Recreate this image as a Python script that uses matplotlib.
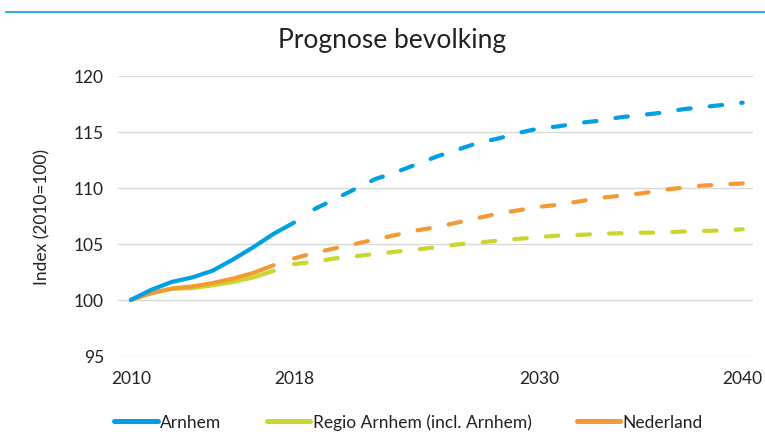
import matplotlib.pyplot as plt
from matplotlib.lines import Line2D

plt.rcParams['font.family'] = ['Lato', 'DejaVu Sans']

# Waarnemingen en prognose (index 2010 = 100)
jaren_arnhem_hist = list(range(2010, 2019))
arnhem_hist = [100.0, 100.9, 101.6, 102.0, 102.6, 103.6, 104.7, 105.9, 106.9]
jaren_arnhem_prog = list(range(2019, 2041))
arnhem_prog = [108.1, 109.0, 109.9, 110.8, 111.4, 112.1, 112.8, 113.4, 114.0, 114.4, 114.9,
               115.3, 115.5, 115.8, 116.0, 116.3, 116.5, 116.7, 117.0, 117.2, 117.4, 117.6]

jaren_hist = list(range(2010, 2018))
jaren_prog = list(range(2018, 2041))
regio_hist = [100.0, 100.6, 101.0, 101.05, 101.3, 101.6, 102.0, 102.6]
regio_prog = [103.2, 103.4, 103.7, 103.9, 104.1, 104.3, 104.5, 104.7, 104.95, 105.1, 105.3,
              105.45, 105.6, 105.75, 105.8, 105.9, 105.95, 106.0, 106.0, 106.1, 106.15, 106.2, 106.3]
nl_hist = [100.0, 100.6, 101.0, 101.2, 101.5, 101.9, 102.4, 103.1]
nl_prog = [103.7, 104.2, 104.6, 105.0, 105.4, 105.8, 106.2, 106.5, 106.9, 107.3, 107.7,
           108.0, 108.3, 108.5, 108.8, 109.1, 109.3, 109.5, 109.8, 110.0, 110.2, 110.3, 110.4]

labels = ['Arnhem', 'Regio Arnhem (incl. Arnhem)', 'Nederland']
kleur_arnhem = '#00a0e3'
kleur_regio = '#c9d62c'
kleur_nl = '#f39a32'
tekst = '#222222'

fig = plt.figure(figsize=(7.65, 4.39), dpi=100)
ax = fig.add_axes([0.154, 0.187, 0.83, 0.638])

lw = 3.0
dash = (3.0, 4.6)

# Regio eerst, dan Nederland, dan Arnhem bovenop
ax.plot(jaren_hist, regio_hist, color=kleur_regio, lw=lw, solid_capstyle='round')
ax.plot(jaren_prog, regio_prog, color=kleur_regio, lw=lw, dashes=dash, dash_capstyle='round')
ax.plot(jaren_hist, nl_hist, color=kleur_nl, lw=lw, solid_capstyle='round')
ax.plot(jaren_prog, nl_prog, color=kleur_nl, lw=lw, dashes=dash, dash_capstyle='round')
ax.plot(jaren_arnhem_hist, arnhem_hist, color=kleur_arnhem, lw=lw, solid_capstyle='round')
ax.plot(jaren_arnhem_prog, arnhem_prog, color=kleur_arnhem, lw=lw, dashes=dash, dash_capstyle='round')

ax.set_xlim(2009.36, 2040.49)
ax.set_ylim(95, 120)
ax.set_xticks([2010, 2018, 2030, 2040])
ax.set_yticks(range(95, 121, 5))
ax.tick_params(axis='both', length=0, labelsize=12.5, colors=tekst)
ax.tick_params(axis='x', pad=10)
ax.tick_params(axis='y', pad=10)
ax.grid(axis='y', color='#d9d9d9', lw=1)
ax.set_axisbelow(True)
for s in ax.spines.values():
    s.set_visible(False)

ax.set_ylabel('Index (2010=100)', fontsize=12.5, color=tekst, labelpad=17)
fig.text(0.513, 0.908, 'Prognose bevolking', ha='center', va='center', fontsize=19, color=tekst)

# blauwe lijn bovenaan
fig.add_artist(Line2D([6 / 765, 1.0], [0.971, 0.971], color='#00a0e3', lw=1.2))

handles = [Line2D([], [], color=c, lw=3.6, solid_capstyle='round') for c in (kleur_arnhem, kleur_regio, kleur_nl)]
fig.legend(handles, labels, loc='center', bbox_to_anchor=(0.534, 0.037), ncol=3, frameon=False,
           fontsize=12.5, handlelength=2.5, handletextpad=0.15, columnspacing=2.6, labelcolor=tekst)

fig.savefig('out.png', dpi=100)
